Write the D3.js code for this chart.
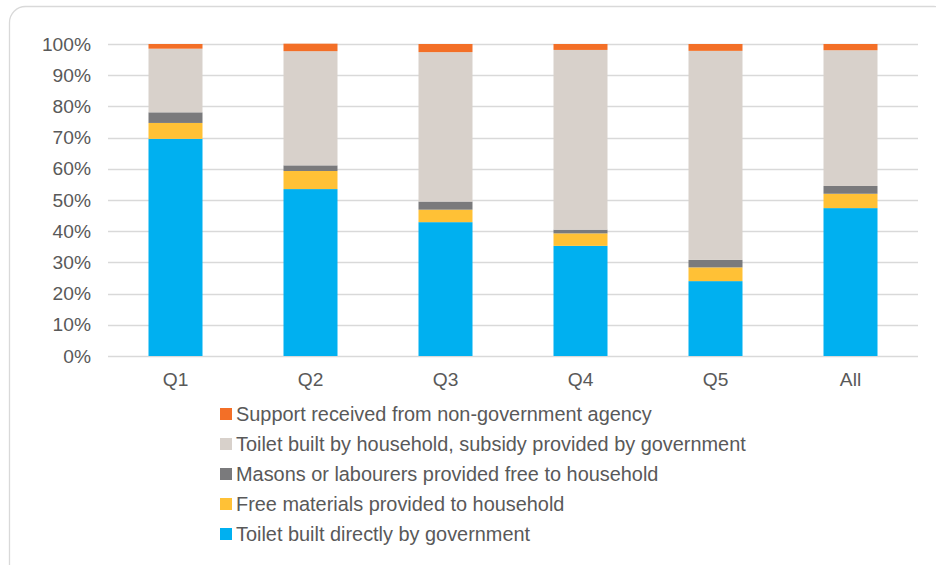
<!DOCTYPE html>
<html>
<head>
<meta charset="utf-8">
<script src="https://cdn.jsdelivr.net/npm/d3@7"></script>
<style>
  html, body { margin: 0; padding: 0; background: #fff; }
  svg { display: block; }
  text { font-family: "Liberation Sans", Arial, sans-serif; fill: #595959; }
</style>
</head>
<body>
<svg id="chart" width="936" height="565"></svg>
<script>
// Quintile groups plus the overall figure
const categories = ["Q1", "Q2", "Q3", "Q4", "Q5", "All"];

// Share of toilets (%) by how they were built, bottom to top of each stack
const builtByGovernment   = [69.6, 53.5, 42.9, 35.3, 24.0, 47.4];
const freeMaterials       = [5.1, 5.8, 4.0, 4.0, 4.4, 4.6];
const freeMasons          = [3.4, 1.8, 2.6, 1.2, 2.4, 2.5];
const householdSubsidised = [20.4, 36.6, 47.9, 57.6, 67.0, 43.5];
const nonGovernmentAgency = [1.5, 2.4, 2.6, 1.9, 2.2, 2.0];

const seriesNames = [
  "Toilet built directly by government",
  "Free materials provided to household",
  "Masons or labourers provided free to household",
  "Toilet built by household, subsidy provided by government",
  "Support received from non-government agency"
];
const seriesColors = ["#00B0F0", "#FFC136", "#7A7A7C", "#D8D1CB", "#F36F27"];
const yTicks = [0, 10, 20, 30, 40, 50, 60, 70, 80, 90, 100];

const seriesValues = [builtByGovernment, freeMaterials, freeMasons, householdSubsidised, nonGovernmentAgency];
const rows = categories.map((c, i) => {
  const r = { category: c };
  seriesNames.forEach((n, s) => { r[n] = seriesValues[s][i]; });
  return r;
});
const stacked = d3.stack().keys(seriesNames)(rows);

const svg = d3.select("#chart");

// Rounded outer frame
svg.append("rect")
  .attr("x", 9.5).attr("y", 6.5)
  .attr("width", 940).attr("height", 580)
  .attr("rx", 16).attr("ry", 16)
  .attr("fill", "#fff")
  .attr("stroke", "#D9D9D9").attr("stroke-width", 1.3);

const plot = { left: 108, right: 918, top: 44, bottom: 356 };

const x = d3.scaleBand().domain(categories)
  .range([plot.left, plot.right]).paddingInner(0.6).paddingOuter(0.3);
const y = d3.scaleLinear().domain([0, 100]).range([plot.bottom, plot.top]);

// Horizontal gridlines
svg.append("g")
  .selectAll("line").data(yTicks).join("line")
  .attr("x1", plot.left).attr("x2", plot.right)
  .attr("y1", d => Math.round(y(d)) + 0.5).attr("y2", d => Math.round(y(d)) + 0.5)
  .attr("stroke", "#D9D9D9").attr("stroke-width", 1.3);

// Y axis labels
const yAxis = svg.append("g")
  .attr("transform", `translate(${plot.left - 17},0)`)
  .call(d3.axisLeft(y).tickValues(yTicks).tickFormat(d => d + "%").tickSize(0).tickPadding(0));
yAxis.select(".domain").remove();
yAxis.selectAll("text")
  .style("font-family", "'Liberation Sans', Arial, sans-serif")
  .style("font-size", "19.2px").style("fill", "#595959");

// Stacked bars
svg.append("g")
  .selectAll("g").data(stacked).join("g")
  .attr("fill", (d, i) => seriesColors[i])
  .selectAll("rect").data(d => d).join("rect")
  .attr("x", d => x(d.data.category))
  .attr("width", x.bandwidth())
  .attr("y", d => y(d[1]))
  .attr("height", d => y(d[0]) - y(d[1]));

// X axis labels
const xAxis = svg.append("g")
  .attr("transform", `translate(0,${plot.bottom + 16})`)
  .call(d3.axisBottom(x).tickSize(0).tickPadding(0));
xAxis.select(".domain").remove();
xAxis.selectAll("text")
  .attr("dy", "0.71em")
  .style("font-family", "'Liberation Sans', Arial, sans-serif")
  .style("font-size", "19.2px").style("fill", "#595959");

// Legend, top entry is the top of the stack
const legendOrder = d3.range(seriesNames.length).reverse();
const legend = svg.append("g")
  .selectAll("g").data(legendOrder).join("g")
  .attr("transform", (d, i) => `translate(220,${414 + i * 30})`);
legend.append("rect")
  .attr("x", 0).attr("y", -6).attr("width", 12).attr("height", 12)
  .attr("fill", d => seriesColors[d]);
legend.append("text")
  .attr("x", 16).attr("y", 0).attr("dy", "0.35em")
  .style("font-size", "19.9px")
  .text(d => seriesNames[d]);
</script>
</body>
</html>
